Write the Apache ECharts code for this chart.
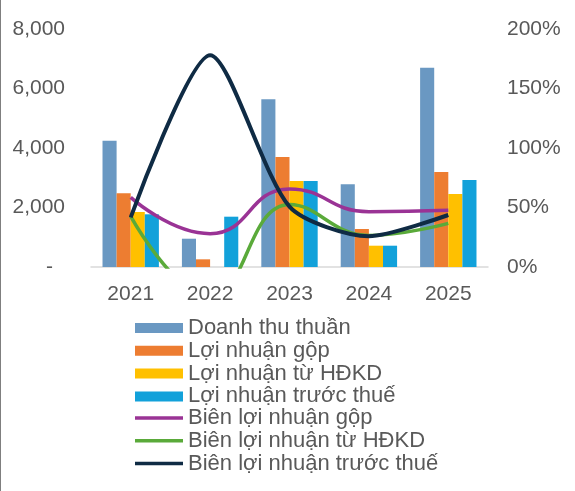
<!DOCTYPE html>
<html>
<head>
<meta charset="utf-8">
<script src="https://cdn.jsdelivr.net/npm/echarts@6/dist/echarts.min.js"></script>
<style>html,body{margin:0;padding:0;background:#fff}#c{width:575px;height:491px}</style>
</head>
<body>
<div id="c"></div>
<script>
const categories = ['2021','2022','2023','2024','2025'];
const doanhThu = [4245, 951, 5636, 2779, 6700];
const loiNhuanGop = [2477, 258, 3697, 1277, 3193];
const loiNhuanHDKD = [1849, -30, 2891, 716, 2454];
const loiNhuanTruocThue = [1771, 1691, 2891, 716, 2924];
const bienGop = [58.5, 28, 65.6, 46.5, 47.7];
const bienHDKD = [42.5, -25, 52.5, 26.5, 36.7];
const bienTruocThue = [41.7, 178, 50.7, 25.8, 43.7];
const leftTicks = [0, 2000, 4000, 6000, 8000];
const rightTicks = [0, 50, 100, 150, 200];

const font = 'Liberation Sans, Arial, sans-serif';
const grey = '#595959';
const chart = echarts.init(document.getElementById('c'), null, {renderer: 'canvas'});
const barNames = ['Doanh thu thuần','Lợi nhuận gộp','Lợi nhuận từ HĐKD','Lợi nhuận trước thuế'];
const barData = [doanhThu, loiNhuanGop, loiNhuanHDKD, loiNhuanTruocThue];
const barColors = ['#6A98C2', '#ED7D31', '#FFC000', '#12A1DA'];
const lineNames = ['Biên lợi nhuận gộp','Biên lợi nhuận từ HĐKD','Biên lợi nhuận trước thuế'];
const lineData = [bienGop, bienHDKD, bienTruocThue];
const lineColors = ['#9A3395', '#5AAA3A', '#0F2B44'];
const lineWidths = [3.5, 3.5, 4];
const lineSmooth = [0.5, 0.45, 0.25];

const series = [];
barNames.forEach((n, i) => series.push({
  name: n, type: 'bar', yAxisIndex: 0, data: barData[i],
  barGap: '0%', barCategoryGap: '29%',
  itemStyle: {color: barColors[i]}
}));
lineNames.forEach((n, i) => series.push({
  name: n, type: 'line', yAxisIndex: 1, data: lineData[i],
  smooth: lineSmooth[i], symbol: 'none', clip: true,
  lineStyle: {color: lineColors[i], width: lineWidths[i]},
  itemStyle: {color: lineColors[i]}
}));

const legendText = {fontFamily: font, fontSize: 22, color: grey, lineHeight: 20.5};
chart.setOption({
  animation: false,
  textStyle: {fontFamily: font},
  graphic: [{type: 'line', shape: {x1: 0.5, y1: 0, x2: 0.5, y2: 491}, style: {stroke: '#7f7f7f', lineWidth: 1}}],
  grid: {left: 91, right: 87, top: 29, bottom: 224},
  legend: [{
    orient: 'vertical', left: 135, top: 317, padding: 0,
    itemWidth: 48, itemHeight: 10, itemGap: 0.8, icon: 'rect',
    textStyle: legendText,
    data: barNames
  }, {
    orient: 'vertical', left: 135, top: 407, padding: 0,
    itemWidth: 48, itemHeight: 3.5, itemGap: 0.8, icon: 'rect',
    textStyle: legendText,
    data: lineNames
  }],
  xAxis: {
    type: 'category', data: categories,
    axisLine: {lineStyle: {color: '#D9D9D9', width: 1.5}},
    axisTick: {show: false},
    axisLabel: {fontFamily: font, fontSize: 21, color: grey, margin: 17}
  },
  yAxis: [{
    type: 'value', min: leftTicks[0], max: leftTicks[leftTicks.length-1], interval: leftTicks[1]-leftTicks[0],
    splitLine: {show: false}, axisLine: {show: false}, axisTick: {show: false},
    axisLabel: {
      fontFamily: font, fontSize: 21, color: grey, margin: 26,
      formatter: v => v === 0 ? '{d|-}' : v.toLocaleString('en-US'),
      rich: {d: {fontFamily: font, fontSize: 21, color: grey, padding: [0, 12, 0, 0]}}
    }
  }, {
    type: 'value', min: rightTicks[0], max: rightTicks[rightTicks.length-1], interval: rightTicks[1]-rightTicks[0],
    splitLine: {show: false}, axisLine: {show: false}, axisTick: {show: false},
    axisLabel: {fontFamily: font, fontSize: 21, color: grey, margin: 19, formatter: '{value}%'}
  }],
  series: series
});
</script>
</body>
</html>
